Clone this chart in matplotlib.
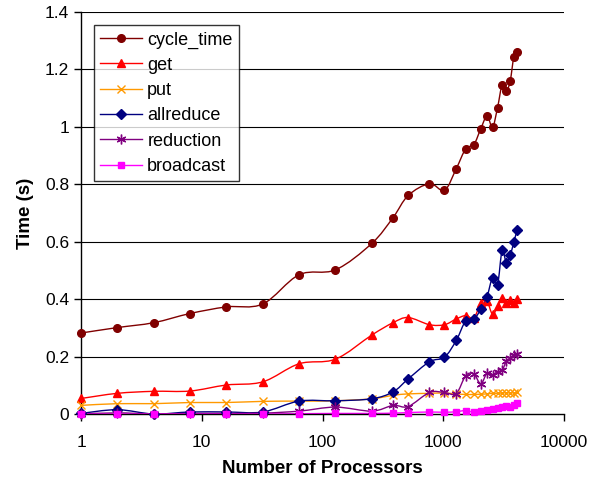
import matplotlib
matplotlib.use("Agg")
import matplotlib.pyplot as plt
import numpy as np
from matplotlib.path import Path
from matplotlib.patches import PathPatch
from matplotlib.lines import Line2D
from matplotlib.ticker import FixedLocator, FuncFormatter, NullLocator

plt.rcParams['font.family'] = ['Liberation Sans', 'DejaVu Sans']

procs = [1, 2, 4, 8, 16, 32, 64, 128, 256, 384, 512, 768, 1024, 1280, 1536,
         1792, 2048, 2304, 2560, 2816, 3072, 3328, 3584, 3840, 4096]
cycle_time = [0.282, 0.301, 0.318, 0.350, 0.373, 0.383, 0.485, 0.502, 0.594, 0.684,
              0.761, 0.802, 0.779, 0.854, 0.924, 0.938, 0.994, 1.038, 0.999, 1.067,
              1.145, 1.124, 1.160, 1.242, 1.259]
get = [0.054, 0.072, 0.079, 0.080, 0.101, 0.112, 0.175, 0.191, 0.275, 0.318,
       0.336, 0.311, 0.311, 0.331, 0.343, 0.334, 0.387, 0.392, 0.347, 0.375,
       0.403, 0.387, 0.396, 0.387, 0.401]
put = [0.030, 0.036, 0.036, 0.040, 0.040, 0.044, 0.045, 0.046, 0.053, 0.065,
       0.070, 0.072, 0.073, 0.070, 0.068, 0.068, 0.069, 0.070, 0.072, 0.072,
       0.073, 0.074, 0.073, 0.074, 0.075]
allreduce = [0.002, 0.015, 0.0, 0.007, 0.007, 0.007, 0.045, 0.046, 0.053, 0.077,
             0.122, 0.182, 0.198, 0.256, 0.325, 0.330, 0.365, 0.409, 0.474, 0.450,
             0.570, 0.527, 0.552, 0.599, 0.641]
reduction = [0.0, 0.004, 0.0, 0.002, 0.002, 0.003, 0.010, 0.024, 0.010, 0.030,
             0.026, 0.075, 0.075, 0.071, 0.134, 0.139, 0.105, 0.143, 0.137, 0.148,
             0.152, 0.183, 0.195, 0.206, 0.210]
broadcast = [0.0, 0.0, 0.0, 0.0, 0.0, 0.0, 0.001, 0.002, 0.002, 0.003,
             0.005, 0.007, 0.006, 0.008, 0.012, 0.006, 0.010, 0.014, 0.018, 0.020,
             0.024, 0.028, 0.026, 0.031, 0.038]

series = [
    ("cycle_time", cycle_time, "#800000", "o", 5.5),
    ("get", get, "#FF0000", "^", 6.0),
    ("put", put, "#FF9900", "x", 6.0),
    ("allreduce", allreduce, "#000080", "D", 5.0),
    ("reduction", reduction, "#800080", (6, 2, 0), 7.0),
    ("broadcast", broadcast, "#FF00FF", "s", 5.0),
]


def smooth_path(x, y):
    # Excel-style smoothed line: cubic bezier through the points (log-x space)
    lx = np.log10(np.asarray(x, float))
    y = np.asarray(y, float)
    pts = np.column_stack([lx, y])
    n = len(pts)
    verts = [pts[0]]
    codes = [Path.MOVETO]
    for i in range(n - 1):
        p0 = pts[max(i - 1, 0)]
        p1 = pts[i]
        p2 = pts[i + 1]
        p3 = pts[min(i + 2, n - 1)]
        c1 = p1 + (p2 - p0) / 6.0
        c2 = p2 - (p3 - p1) / 6.0
        verts += [c1, c2, p2]
        codes += [Path.CURVE4] * 3
    verts = np.array(verts)
    verts[:, 0] = 10 ** verts[:, 0]
    return Path(verts, codes)


fig = plt.figure(figsize=(6.02, 4.79), dpi=100)
ax = fig.add_axes([81 / 602, 1 - 414 / 479, (564 - 81) / 602, (414 - 12) / 479])
ax.set_xscale("log")
ax.set_xlim(1, 10000)
ax.set_ylim(0, 1.4)

for yv in np.arange(0.2, 1.41, 0.2):
    ax.axhline(yv, color="#000000", lw=0.8, zorder=1)

handles = []
for name, vals, col, mk, ms in series:
    patch = PathPatch(smooth_path(procs, vals), facecolor="none", edgecolor=col,
                      lw=1.0, zorder=2)
    ax.add_patch(patch)
    ax.plot(procs, vals, linestyle="none", marker=mk, markersize=ms, color=col,
            markeredgewidth=1.0, zorder=3, clip_on=False)
    handles.append(Line2D([], [], color=col, lw=1.0, marker=mk, markersize=ms,
                          markeredgewidth=1.0))

ax.spines["top"].set_visible(False)
ax.spines["right"].set_visible(False)
ax.spines["left"].set_linewidth(1.0)
ax.spines["bottom"].set_linewidth(1.0)

ax.xaxis.set_major_locator(FixedLocator([1, 10, 100, 1000, 10000]))
ax.xaxis.set_minor_locator(NullLocator())
ax.xaxis.set_major_formatter(FuncFormatter(lambda v, p: "%d" % round(v)))
ax.yaxis.set_major_locator(FixedLocator(np.round(np.arange(0, 1.41, 0.2), 1)))
ax.yaxis.set_major_formatter(FuncFormatter(lambda v, p: "%g" % round(v, 1)))
ax.tick_params(axis="both", direction="out", length=5, width=1.0, labelsize=12.5,
               colors="black")
ax.tick_params(axis="x", pad=10)

ax.set_xlabel("Number of Processors", fontsize=13.5, fontweight="bold", labelpad=7)
ax.set_ylabel("Time (s)", fontsize=13.5, fontweight="bold", labelpad=8)

leg = ax.legend(handles, [s[0] for s in series], loc="upper left",
                bbox_to_anchor=(94 / 602, 1 - 25 / 479), bbox_transform=fig.transFigure,
                borderaxespad=0, fontsize=13, frameon=True, fancybox=False,
                edgecolor="black", handlelength=2.3, handletextpad=0.3,
                labelspacing=0.46, borderpad=0.35)
leg.get_frame().set_linewidth(1.0)

fig.savefig("out.png", dpi=100)
